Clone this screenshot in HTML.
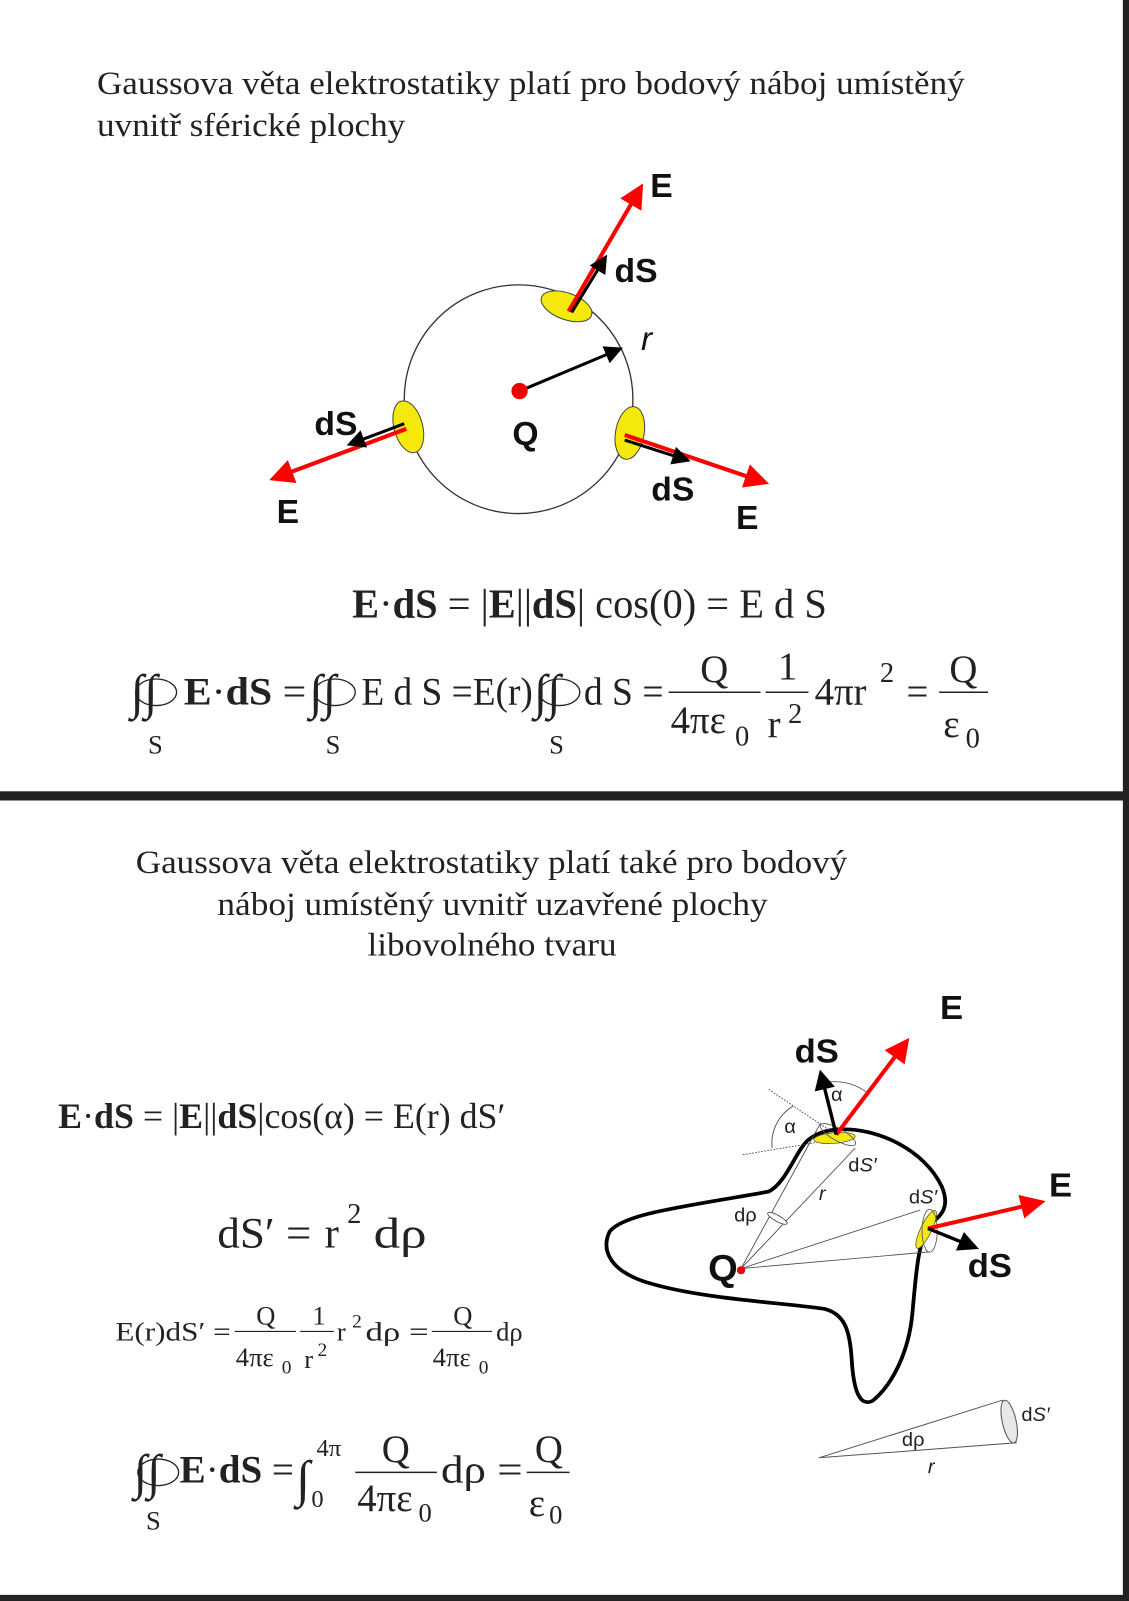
<!DOCTYPE html>
<html><head><meta charset="utf-8"><style>
html,body{margin:0;padding:0;background:#fff;}
svg{display:block;}
.t{font-family:"Liberation Serif",serif;fill:#222;}
.s{font-family:"Liberation Sans",sans-serif;font-weight:bold;fill:#111;}
</style></head><body>
<svg width="1129" height="1601" viewBox="0 0 1106 1568" preserveAspectRatio="none">
<defs>
<marker id="ar" markerWidth="6" markerHeight="6" refX="3" refY="3" orient="auto" markerUnits="strokeWidth"><path d="M0,0 L6,3 L0,6 z" fill="#f00"/></marker>
<marker id="ab" markerWidth="6" markerHeight="6" refX="3" refY="3" orient="auto" markerUnits="strokeWidth"><path d="M0,0 L6,3 L0,6 z" fill="#000"/></marker>
</defs>
<rect width="1106" height="1568" fill="#fff"/>
<rect x="0" y="775" width="1106" height="9" fill="#222"/>
<rect x="1100" y="0" width="6" height="1568" fill="#222"/>
<rect x="0" y="1562" width="1106" height="6" fill="#222"/>

<g class="t" font-size="32">
<text x="95" y="92" textLength="850" lengthAdjust="spacingAndGlyphs">Gaussova věta elektrostatiky platí pro bodový náboj umístěný</text>
<text x="95" y="133" textLength="302" lengthAdjust="spacingAndGlyphs">uvnitř sférické plochy</text>
</g>

<g>
<circle cx="508" cy="391" r="112" fill="none" stroke="#333" stroke-width="1.3"/>
<ellipse cx="555" cy="300" rx="26" ry="13" transform="rotate(20 555 300)" fill="#f5e90c" stroke="#444" stroke-width="1"/>
<ellipse cx="400" cy="418" rx="14" ry="26" transform="rotate(-15 400 418)" fill="#f5e90c" stroke="#444" stroke-width="1"/>
<ellipse cx="617" cy="424" rx="14" ry="26" transform="rotate(10 617 424)" fill="#f5e90c" stroke="#444" stroke-width="1"/>
<line x1="557" y1="305" x2="624" y2="190" stroke="#f00" stroke-width="4" marker-end="url(#ar)"/>
<line x1="560" y1="306" x2="590" y2="257" stroke="#000" stroke-width="3" marker-end="url(#ab)"/>
<line x1="398" y1="420" x2="275" y2="466" stroke="#f00" stroke-width="4" marker-end="url(#ar)"/>
<line x1="396" y1="415" x2="348" y2="433" stroke="#000" stroke-width="3" marker-end="url(#ab)"/>
<line x1="612" y1="426" x2="742" y2="470" stroke="#f00" stroke-width="4" marker-end="url(#ar)"/>
<line x1="612" y1="431" x2="668" y2="449" stroke="#000" stroke-width="3" marker-end="url(#ab)"/>
<line x1="509" y1="383" x2="602" y2="344" stroke="#000" stroke-width="3" marker-end="url(#ab)"/>
<circle cx="509" cy="383" r="8" fill="#e00"/>
<g class="s" font-size="33">
<text x="637" y="193">E</text>
<text x="602" y="276">dS</text>
<text x="308" y="426">dS</text>
<text x="271" y="512">E</text>
<text x="502" y="436">Q</text>
<text x="638" y="490">dS</text>
<text x="721" y="518">E</text>
</g>
<text x="628" y="343" font-family="Liberation Sans,sans-serif" font-style="italic" font-size="33" fill="#111">r</text>
</g>

<g class="t">
<text x="345" y="605" font-size="40" textLength="465" lengthAdjust="spacingAndGlyphs"><tspan font-weight="bold">E</tspan>·<tspan font-weight="bold">dS</tspan> = |<tspan font-weight="bold">E</tspan>||<tspan font-weight="bold">dS</tspan>| cos(0) = E d S</text>
</g>

<g class="t" font-size="38">
<text x="128" y="694" font-size="48">∫∫</text><ellipse cx="153" cy="678" rx="20" ry="13" fill="none" stroke="#222" stroke-width="1.3"/>
<text x="145" y="738" font-size="26">S</text>
<text x="180" y="690" textLength="120" lengthAdjust="spacingAndGlyphs"><tspan font-weight="bold">E</tspan>·<tspan font-weight="bold">dS</tspan> =</text>
<text x="303" y="694" font-size="48">∫∫</text><ellipse cx="328" cy="678" rx="20" ry="13" fill="none" stroke="#222" stroke-width="1.3"/>
<text x="319" y="738" font-size="26">S</text>
<text x="354" y="690" textLength="168" lengthAdjust="spacingAndGlyphs">E d S =E(r)</text>
<text x="523" y="694" font-size="48">∫∫</text><ellipse cx="548" cy="678" rx="20" ry="13" fill="none" stroke="#222" stroke-width="1.3"/>
<text x="538" y="738" font-size="26">S</text>
<text x="572" y="690" textLength="78" lengthAdjust="spacingAndGlyphs">d S =</text>
<line x1="655" y1="678" x2="745" y2="678" stroke="#222" stroke-width="1.5"/>
<text x="686" y="668">Q</text>
<text x="657" y="718">4πε</text><text x="720" y="730" font-size="28">0</text>
<line x1="750" y1="678" x2="792" y2="678" stroke="#222" stroke-width="1.5"/>
<text x="762" y="665">1</text>
<text x="752" y="722">r</text><text x="772" y="708" font-size="28">2</text>
<text x="798" y="690">4πr</text><text x="862" y="668" font-size="28">2</text>
<text x="888" y="690">=</text>
<line x1="920" y1="678" x2="968" y2="678" stroke="#222" stroke-width="1.5"/>
<text x="930" y="668">Q</text>
<text x="924" y="722">ε</text><text x="946" y="732" font-size="28">0</text>
</g>

<g class="t" font-size="32">
<text x="133" y="855" textLength="697" lengthAdjust="spacingAndGlyphs">Gaussova věta elektrostatiky platí také pro bodový</text>
<text x="213" y="896" textLength="539" lengthAdjust="spacingAndGlyphs">náboj umístěný uvnitř uzavřené plochy</text>
<text x="360" y="936" textLength="244" lengthAdjust="spacingAndGlyphs">libovolného tvaru</text>
</g>

<g class="t">
<text x="57" y="1105" font-size="35" textLength="438" lengthAdjust="spacingAndGlyphs"><tspan font-weight="bold">E</tspan>·<tspan font-weight="bold">dS</tspan> = |<tspan font-weight="bold">E</tspan>||<tspan font-weight="bold">dS</tspan>|cos(α) = E(r) dS′</text>
</g>
<g class="t" font-size="42">
<text x="213" y="1222" textLength="92" lengthAdjust="spacingAndGlyphs">dS′ =</text>
<text x="318" y="1222">r</text>
<text x="340" y="1198" font-size="28">2</text>
<text x="366" y="1222" textLength="52" lengthAdjust="spacingAndGlyphs">dρ</text>
</g>
<g class="t" font-size="26">
<text x="113" y="1313" textLength="113" lengthAdjust="spacingAndGlyphs">E(r)dS′ =</text>
<line x1="230" y1="1304" x2="290" y2="1304" stroke="#222" stroke-width="1.2"/>
<text x="251" y="1297">Q</text>
<text x="231" y="1338">4πε</text><text x="276" y="1345" font-size="19">0</text>
<line x1="294" y1="1304" x2="327" y2="1304" stroke="#222" stroke-width="1.2"/>
<text x="306" y="1297">1</text>
<text x="298" y="1340">r</text><text x="311" y="1328" font-size="19">2</text>
<text x="330" y="1313">r</text><text x="345" y="1300" font-size="19">2</text>
<text x="358" y="1313" textLength="62" lengthAdjust="spacingAndGlyphs">dρ =</text>
<line x1="423" y1="1304" x2="482" y2="1304" stroke="#222" stroke-width="1.2"/>
<text x="444" y="1297">Q</text>
<text x="424" y="1338">4πε</text><text x="469" y="1345" font-size="19">0</text>
<text x="486" y="1313">dρ</text>
</g>
<g class="t" font-size="38">
<text x="131" y="1458" font-size="48">∫∫</text><ellipse cx="155" cy="1442" rx="20" ry="13" fill="none" stroke="#222" stroke-width="1.3"/>
<text x="143" y="1498" font-size="26">S</text>
<text x="176" y="1452" textLength="112" lengthAdjust="spacingAndGlyphs"><tspan font-weight="bold">E</tspan>·<tspan font-weight="bold">dS</tspan> =</text>
<text x="290" y="1465" font-size="50">∫</text>
<text x="310" y="1426" font-size="24">4π</text>
<text x="305" y="1476" font-size="24">0</text>
<line x1="348" y1="1442" x2="428" y2="1442" stroke="#222" stroke-width="1.5"/>
<text x="374" y="1432">Q</text>
<text x="350" y="1480">4πε</text><text x="410" y="1490" font-size="26">0</text>
<text x="432" y="1452" textLength="80" lengthAdjust="spacingAndGlyphs">dρ =</text>
<line x1="516" y1="1442" x2="558" y2="1442" stroke="#222" stroke-width="1.5"/>
<text x="524" y="1432">Q</text>
<text x="518" y="1485">ε</text><text x="538" y="1492" font-size="26">0</text>
</g>

<g transform="translate(570,962) scale(0.339,0.328)">
<path d="M735,440 C850,430 990,500 1040,610 C1065,670 1040,700 1000,725 C970,790 965,880 955,990 C945,1100 900,1200 840,1250 C800,1270 785,1210 780,1130 C775,1040 760,990 700,975 C560,955 350,945 200,900 C80,865 55,800 80,745 C120,690 300,670 540,625 C590,600 620,500 655,470 C680,450 705,442 735,440 Z" fill="none" stroke="#000" stroke-width="11"/>
<line x1="540" y1="320" x2="720" y2="445" stroke="#444" stroke-width="2.5" stroke-dasharray="5,4"/>
<line x1="465" y1="515" x2="680" y2="478" stroke="#444" stroke-width="2.5" stroke-dasharray="5,4"/>
<path d="M550,495 A130,130 0 0 1 610,370" fill="none" stroke="#444" stroke-width="2.5"/>
<path d="M700,300 A150,150 0 0 1 825,330" fill="none" stroke="#444" stroke-width="2.5"/>
<line x1="460" y1="855" x2="690" y2="420" stroke="#444" stroke-width="2.5"/>
<line x1="460" y1="855" x2="790" y2="495" stroke="#444" stroke-width="2.5"/>
<ellipse cx="565" cy="705" rx="32" ry="9" transform="rotate(30 565 705)" fill="#fff" stroke="#444" stroke-width="2.5"/>
<ellipse cx="730" cy="465" rx="60" ry="16" transform="rotate(-5 730 465)" fill="#f5e90c" stroke="#444" stroke-width="2"/>
<ellipse cx="740" cy="455" rx="58" ry="18" transform="rotate(30 740 455)" fill="none" stroke="#555" stroke-width="2.5"/>
<line x1="460" y1="855" x2="978" y2="680" stroke="#444" stroke-width="2.5"/>
<line x1="460" y1="855" x2="1005" y2="805" stroke="#444" stroke-width="2.5"/>
<ellipse cx="995" cy="738" rx="16" ry="62" transform="rotate(25 995 738)" fill="#f5e90c" stroke="#444" stroke-width="2"/>
<ellipse cx="1005" cy="742" rx="22" ry="64" fill="none" stroke="#555" stroke-width="2.5"/>
<line x1="735" y1="455" x2="925" y2="195" stroke="#f00" stroke-width="12" marker-end="url(#ar)"/>
<line x1="735" y1="455" x2="695" y2="290" stroke="#000" stroke-width="10" marker-end="url(#ab)"/>
<line x1="1000" y1="735" x2="1305" y2="662" stroke="#f00" stroke-width="12" marker-end="url(#ar)"/>
<line x1="1000" y1="735" x2="1120" y2="785" stroke="#000" stroke-width="10" marker-end="url(#ab)"/>
<circle cx="460" cy="860" r="12" fill="#e00"/>
<g class="s" font-size="100">
<text x="1035" y="110">E</text>
<text x="615" y="240">dS</text>
<text x="1350" y="640">E</text>
<text x="1115" y="880">dS</text>
<text x="365" y="890" font-size="110">Q</text>
</g>
<g font-family="Liberation Sans,sans-serif" font-size="58" fill="#222">
<text x="720" y="355">α</text>
<text x="585" y="450">α</text>
<text x="770" y="565">d<tspan font-style="italic">S′</tspan></text>
<text x="945" y="660">d<tspan font-style="italic">S′</tspan></text>
<text x="440" y="715">dρ</text>
<text x="685" y="650" font-style="italic">r</text>
</g>
<path d="M685,1420 L1215,1248 L1255,1375 Z" fill="none" stroke="#555" stroke-width="3"/>
<ellipse cx="1235" cy="1312" rx="20" ry="65" transform="rotate(-12 1235 1312)" fill="#e8e8e8" stroke="#555" stroke-width="3"/>
<g font-family="Liberation Sans,sans-serif" font-size="58" fill="#222">
<text x="925" y="1385">dρ</text>
<text x="1000" y="1465" font-style="italic">r</text>
<text x="1270" y="1310">d<tspan font-style="italic">S′</tspan></text>
</g>
</g>
</svg>
</body></html>
